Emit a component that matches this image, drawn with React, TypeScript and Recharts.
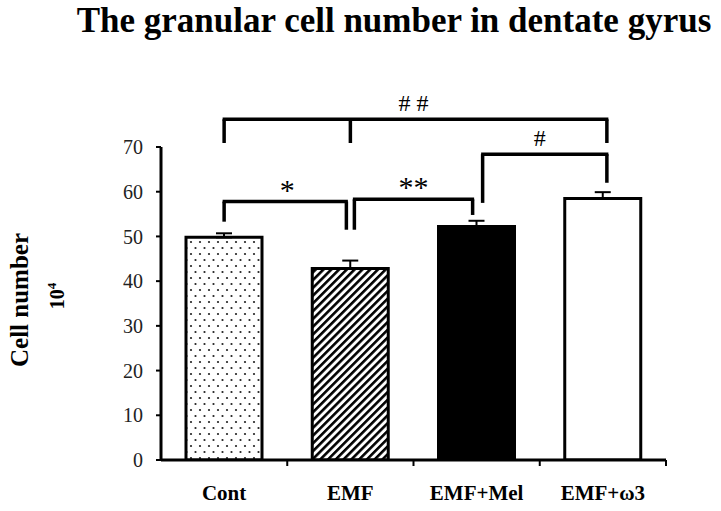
import React from 'react';
import { BarChart, Bar, XAxis, YAxis, Cell, ErrorBar, ReferenceLine } from 'recharts';

// values (cell number x 10^4)
const groups = ['Cont', 'EMF', 'EMF+Mel', 'EMF+\u03c93'];
const cellMeans = [49.8, 42.8, 52.2, 58.5];
const cellSem = [0.9, 1.8, 1.3, 1.4];
const yTicks = [0, 10, 20, 30, 40, 50, 60, 70];

// significance brackets: each leg = [group, bottom y]
const brackets = [
  { label: '*', top: 57.8, legs: [['Cont', 53.3], ['EMF', 51.5]] },
  { label: '**', top: 58.3, legs: [['EMF', 51.5], ['EMF+Mel', 54.8]] },
  { label: '#', top: 68.4, legs: [['EMF+Mel', 57.5], ['EMF+\u03c93', 62]] },
  { label: '# #', top: 76.2, legs: [['Cont', 70.9], ['EMF', 70.9], ['EMF+\u03c93', 70.9]] },
];

// small pixel nudges so neighbouring brackets don't share a leg
const legNudge = [[0, -4], [4, -4], [6, 4], [0, 0, 4]];

const barFills = ['url(#dots)', 'url(#hatch)', '#000', '#fff'];

const W = 721;
const H = 511;
const margin = { top: 147, right: 55, bottom: 0, left: 101 };
const halfBand = (W - margin.left - 60 - margin.right) / groups.length / 2;

const data = groups.map((name, i) => ({ name, value: cellMeans[i], err: [0, cellSem[i]] }));

const serif = '"Liberation Serif", "Times New Roman", serif';

const GroupTick = (props: any) => {
  const { x, y, payload } = props;
  return (
    <g>
      <line x1={x + halfBand} x2={x + halfBand} y1={y} y2={y + 6} stroke="#000" strokeWidth={2} />
      <text x={x} y={y + 40} textAnchor="middle" fontFamily={serif} fontWeight="bold" fontSize={21} fill="#000">
        {payload.value}
      </text>
    </g>
  );
};

const shiftedLine = (dx1: number, dx2: number) => (p: any) => (
  <line x1={p.x1 + dx1} y1={p.y1} x2={p.x2 + dx2} y2={p.y2} stroke="#000" strokeWidth={3.5} />
);

export default function App() {
  return (
    <div style={{ position: 'absolute', left: 0, top: 0, width: W, height: H, background: '#fff' }}>
      <BarChart width={W} height={H} data={data} margin={margin}>
        <defs>
          <pattern id="dots" width="9" height="12" patternUnits="userSpaceOnUse">
            <rect width="9" height="12" fill="#fff" />
            <circle cx="2" cy="2" r="1.1" fill="#222" />
            <circle cx="6.5" cy="8" r="1.1" fill="#222" />
          </pattern>
          <pattern id="hatch" width="5.5" height="5.5" patternUnits="userSpaceOnUse" patternTransform="rotate(45)">
            <rect width="5.5" height="5.5" fill="#fff" />
            <rect width="2.6" height="5.5" fill="#000" />
          </pattern>
        </defs>
        <XAxis
          dataKey="name"
          type="category"
          tickLine={false}
          tickSize={0}
          tickMargin={0}
          height={51}
          axisLine={{ stroke: '#000', strokeWidth: 3 }}
          tick={<GroupTick />}
          interval={0}
        />
        <YAxis
          width={60}
          domain={[0, 70]}
          ticks={yTicks}
          interval={0}
          allowDataOverflow
          tickSize={5}
          tickMargin={13}
          axisLine={{ stroke: '#000', strokeWidth: 3 }}
          tickLine={{ stroke: '#000', strokeWidth: 2 }}
          tick={{ fontFamily: serif, fontSize: 20, fill: '#222' }}
        />
        <Bar dataKey="value" barSize={76} stroke="#000" strokeWidth={3} isAnimationActive={false}>
          {data.map((d, i) => (
            <Cell key={d.name} fill={barFills[i]} />
          ))}
          <ErrorBar dataKey="err" width={8} stroke="#000" strokeWidth={2} isAnimationActive={false} />
        </Bar>
        {brackets.map((b, bi) => {
          const first = b.legs[0];
          const last = b.legs[b.legs.length - 1];
          const nudge = legNudge[bi];
          const isHash = b.label.includes('#');
          return [
            <ReferenceLine
              key={b.label + '-top'}
              ifOverflow="visible"
              segment={[{ x: first[0], y: b.top }, { x: last[0], y: b.top }]}
              shape={shiftedLine(nudge[0] - 1.5, nudge[nudge.length - 1] + 1.5)}
              label={{
                value: b.label,
                position: 'top',
                offset: isHash ? 8 : 2,
                fill: '#000',
                fontSize: isHash ? 24 : 30,
                fontFamily: serif,
              }}
            />,
            ...b.legs.map((l, j) => (
              <ReferenceLine
                key={b.label + '-leg' + j}
                ifOverflow="visible"
                segment={[{ x: l[0], y: b.top }, { x: l[0], y: l[1] }]}
                shape={shiftedLine(nudge[j], nudge[j])}
              />
            )),
          ];
        })}
      </BarChart>
      <svg width={W} height={H} style={{ position: 'absolute', left: 0, top: 0, pointerEvents: 'none' }}>
        <text x={394} y={32} textAnchor="middle" fontFamily={serif} fontWeight="bold" fontSize={35} fill="#000">
          The granular cell number in dentate gyrus
        </text>
        <text
          transform="translate(28, 300) rotate(-90)"
          textAnchor="middle"
          fontFamily={serif}
          fontWeight="bold"
          fontSize={25}
          fill="#000"
        >
          Cell number
        </text>
        <text
          transform="translate(64, 296) rotate(-90)"
          textAnchor="middle"
          fontFamily={serif}
          fontWeight="bold"
          fontSize={20}
          fill="#000"
        >
          10<tspan dy={-8} fontSize={13}>4</tspan>
        </text>
      </svg>
    </div>
  );
}
